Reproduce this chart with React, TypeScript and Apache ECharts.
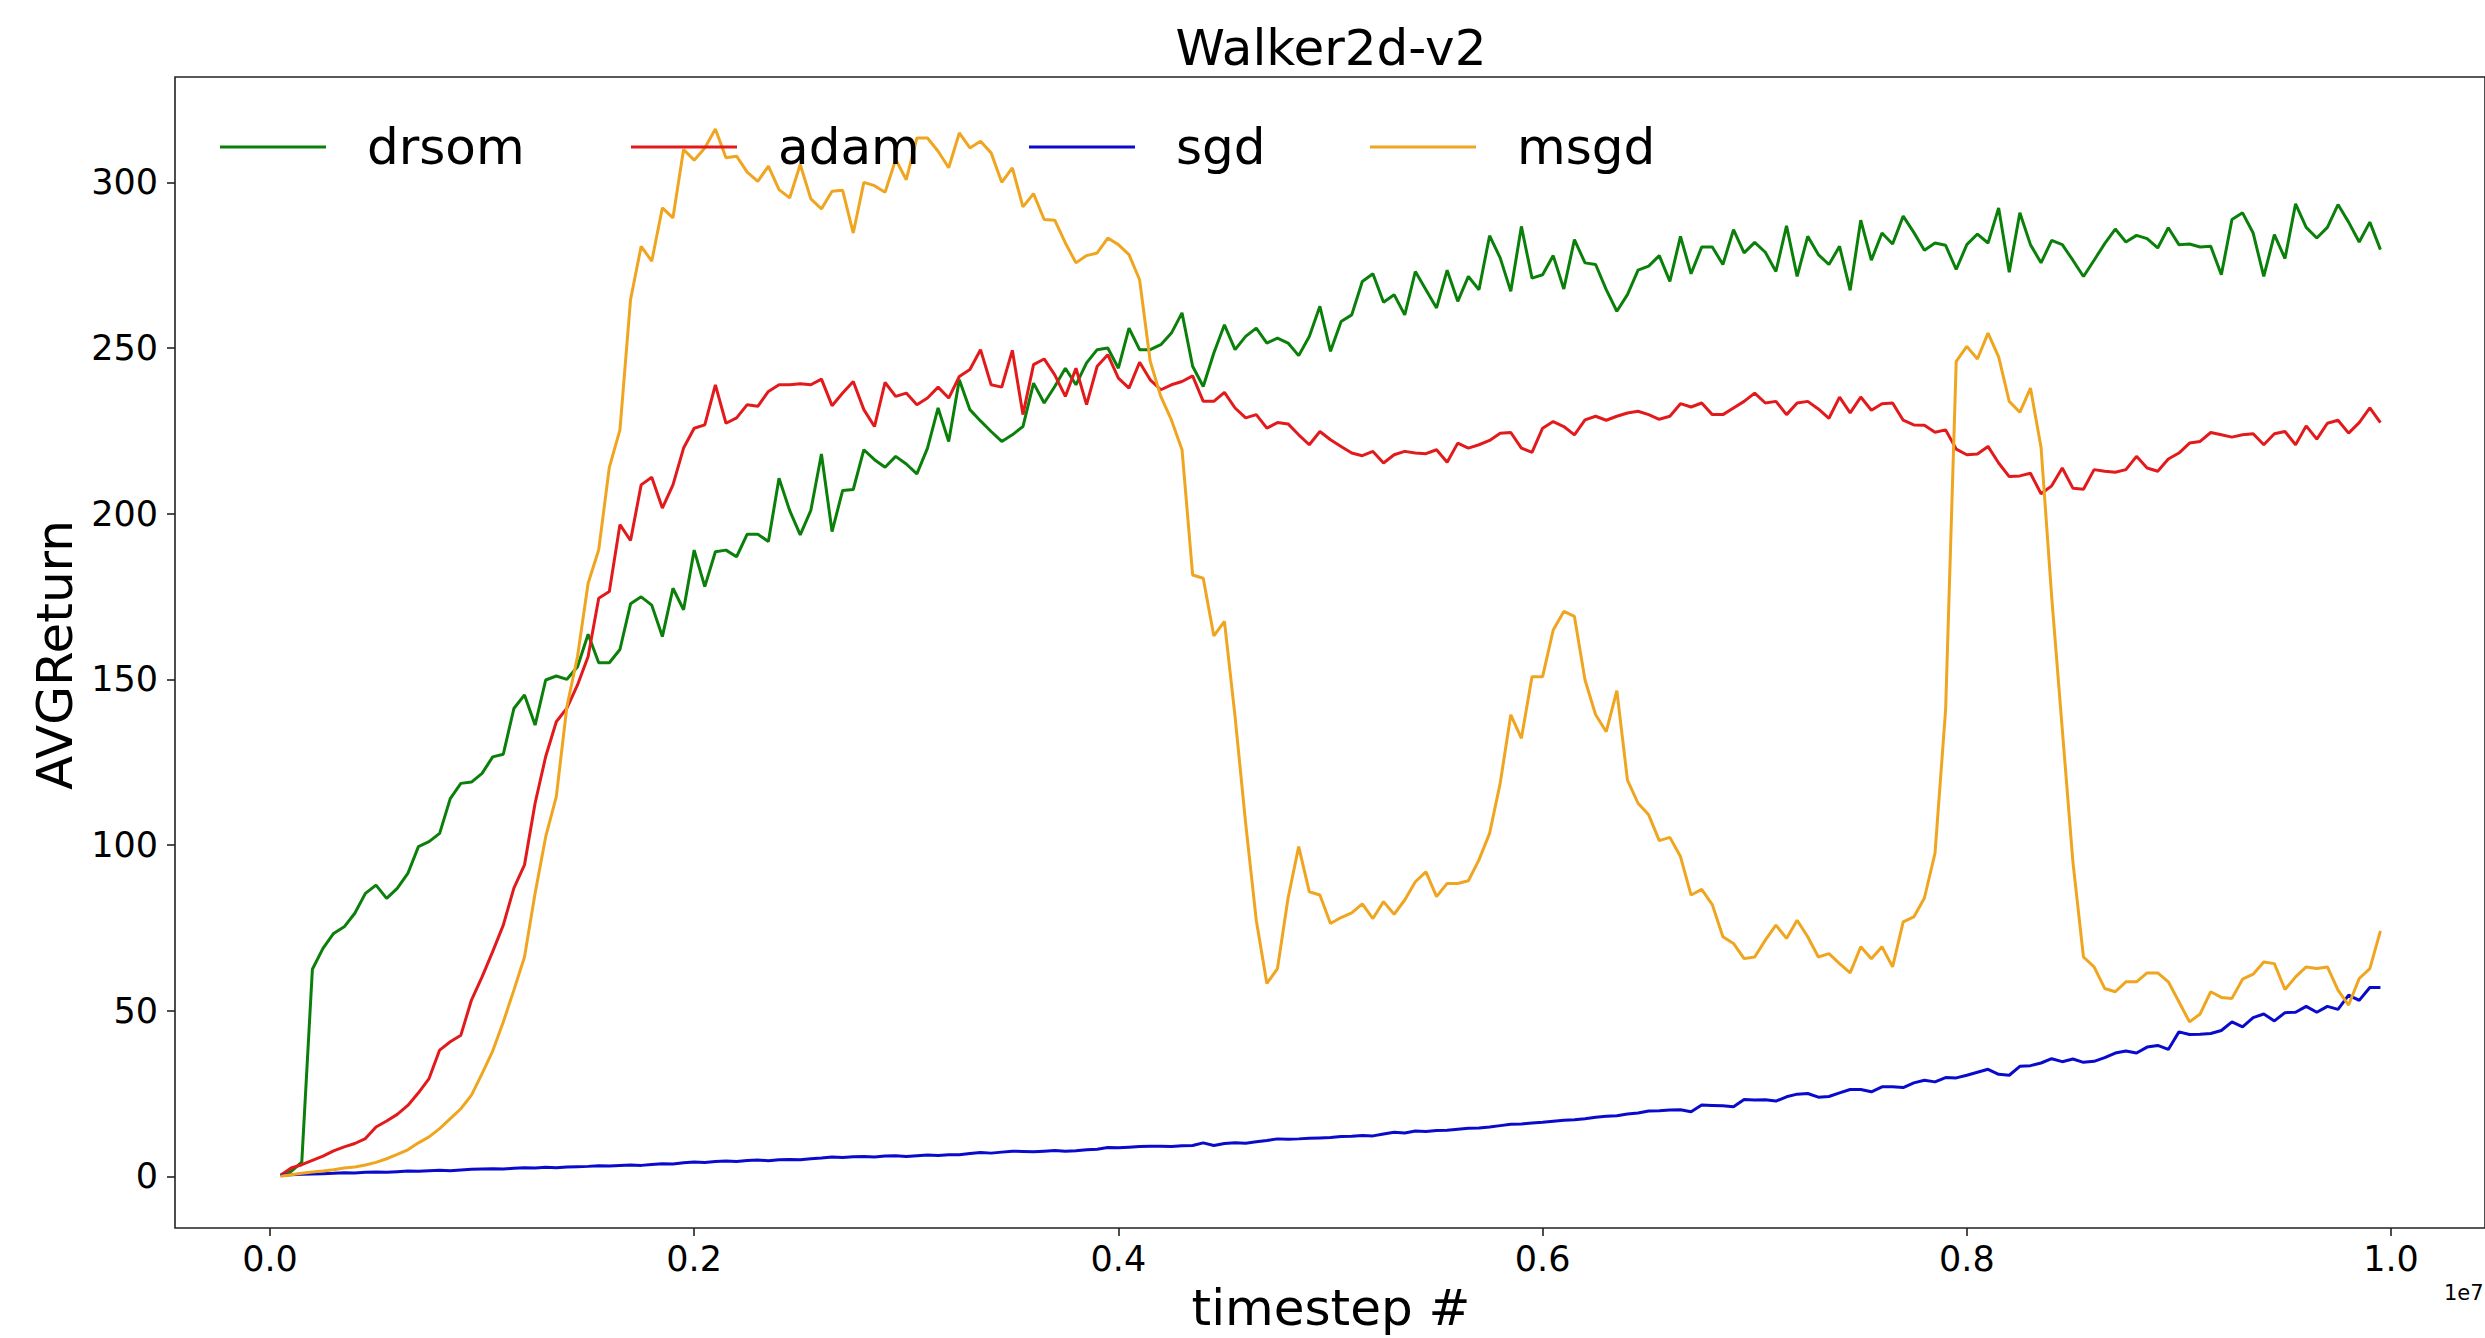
import React, { useEffect, useRef } from "react";
import * as echarts from "echarts";

// Average return per method, one value every 50,000 timesteps (0.005e7 .. 0.995e7)
const drsom = [
  0.2, 1.5, 4.3, 62.5, 68.8, 73.3, 75.3, 79.4, 85.4, 87.9,
  83.9, 86.9, 91.4, 99.5, 101.0, 103.5, 114.0, 118.6, 119.0, 121.6,
  126.6, 127.4, 141.2, 145.3, 136.2, 149.8, 151.0, 150.0, 153.8, 163.6,
  155.0, 155.0, 159.0, 172.8, 174.9, 172.4, 162.9, 177.5, 171.0, 189.0,
  178.0, 188.5, 189.0, 187.0, 193.8, 193.8, 191.6, 210.7, 201.0, 193.6,
  201.0, 218.0, 194.6, 207.0, 207.3, 219.3, 216.3, 214.0, 217.3, 215.0,
  212.0, 219.8, 231.9, 221.8, 240.4, 231.4, 228.0, 224.8, 221.8, 223.8,
  226.3, 239.4, 233.4, 238.4, 243.9, 238.9, 245.5, 249.5, 250.0, 243.9,
  256.0, 249.5, 249.5, 251.0, 254.5, 260.6, 244.5, 238.4, 248.5, 257.0,
  249.5, 253.5, 256.0, 251.5, 253.0, 251.5, 247.7, 253.5, 262.6, 249.0,
  258.0, 260.0, 270.1, 272.4, 263.8, 266.1, 260.0, 273.1, 267.6, 262.1,
  273.5, 264.1, 271.6, 267.6, 283.9, 277.2, 267.1, 286.7, 271.1, 272.1,
  277.9, 267.8, 282.7, 275.7, 275.2, 267.6, 261.1, 266.1, 273.5, 274.7,
  277.9, 270.1, 283.7, 272.4, 280.5, 280.5, 275.2, 285.7, 278.7, 281.9,
  278.9, 273.1, 286.9, 271.6, 283.7, 278.2, 275.2, 280.7, 267.4, 288.6,
  276.5, 284.7, 281.4, 289.8, 284.9, 279.5, 281.7, 281.0, 273.7, 281.2,
  284.4, 281.7, 292.3, 272.9, 290.8, 281.2, 275.7, 282.5, 281.2, 276.5,
  271.6, 276.5, 281.5, 285.9, 282.0, 284.0, 283.0, 280.2, 286.3, 281.2,
  281.4, 280.5, 280.7, 272.1, 288.8, 290.8, 284.7, 271.6, 284.2, 277.0,
  293.5, 286.4, 283.2, 286.4, 293.3, 288.0, 282.0, 288.0, 279.7,
];

const adam = [
  0.3, 2.5, 3.5, 4.8, 6.1, 7.7, 8.9, 9.9, 11.4, 14.9,
  16.7, 18.7, 21.4, 25.2, 29.5, 38.1, 40.6, 42.6, 53.2, 60.2,
  67.8, 75.8, 87.0, 94.0, 112.6, 126.7, 137.2, 141.3, 148.3, 156.9,
  174.5, 176.5, 196.7, 191.9, 208.7, 211.0, 201.7, 208.7, 219.8, 225.8,
  226.8, 238.9, 227.3, 228.9, 232.9, 232.4, 236.9, 238.9, 238.9, 239.2,
  238.9, 240.6, 232.6, 236.4, 239.9, 231.4, 226.3, 239.6, 235.4, 236.4,
  232.9, 234.9, 238.2, 234.9, 241.4, 243.5, 249.5, 238.9, 238.2, 249.3,
  229.9, 245.0, 246.7, 241.9, 235.4, 243.9, 232.9, 244.5, 248.0, 240.9,
  237.9, 245.7, 240.4, 237.4, 238.9, 239.9, 241.6, 233.9, 233.9, 236.6,
  231.9, 228.9, 229.9, 225.8, 227.5, 227.1, 223.8, 220.8, 224.8, 222.3,
  220.3, 218.3, 217.5, 218.8, 215.3, 217.8, 218.8, 218.3, 218.1, 219.3,
  215.5, 221.3, 219.8, 220.8, 222.1, 224.3, 224.5, 219.8, 218.5, 225.8,
  227.8, 226.3, 223.8, 228.3, 229.4, 228.2, 229.4, 230.4, 230.9, 229.9,
  228.5, 229.4, 233.2, 232.2, 233.4, 229.9, 229.9, 231.9, 233.9, 236.4,
  233.4, 233.9, 229.9, 233.4, 233.9, 231.6, 228.8, 235.2, 230.4, 235.2,
  231.2, 233.2, 233.4, 228.2, 226.8, 226.7, 224.6, 225.3, 219.5, 217.8,
  218.0, 220.3, 215.3, 211.2, 211.4, 212.2, 206.0, 208.4, 213.8, 207.7,
  207.4, 213.3, 212.8, 212.5, 213.3, 217.3, 213.8, 212.8, 216.5, 218.3,
  221.3, 221.8, 224.5, 223.8, 223.1, 223.8, 224.1, 220.8, 224.1, 224.8,
  220.8, 226.5, 222.5, 227.3, 228.2, 224.3, 227.5, 231.9, 227.5,
];

const sgd = [
  0.3, 0.5, 0.6, 0.7, 0.8, 0.9, 1.1, 1.0, 1.2, 1.3,
  1.2, 1.4, 1.6, 1.5, 1.7, 1.8, 1.7, 1.9, 2.1, 2.2,
  2.3, 2.2, 2.4, 2.6, 2.5, 2.7, 2.6, 2.8, 2.9, 3.0,
  3.2, 3.1, 3.3, 3.4, 3.3, 3.6, 3.8, 3.7, 4.1, 4.3,
  4.2, 4.5, 4.6, 4.5, 4.8, 4.9, 4.7, 5.0, 5.1, 5.0,
  5.3, 5.5, 5.8, 5.7, 5.9, 6.0, 5.8, 6.1, 6.2, 6.0,
  6.2, 6.4, 6.3, 6.5, 6.5, 6.9, 7.2, 7.0, 7.3, 7.6,
  7.5, 7.4, 7.6, 7.8, 7.6, 7.7, 8.0, 8.2, 8.7, 8.6,
  8.8, 9.0, 9.1, 9.1, 9.0, 9.2, 9.3, 10.1, 9.3, 9.9,
  10.1, 10.0, 10.4, 10.8, 11.3, 11.2, 11.3, 11.5, 11.6, 11.7,
  12.0, 12.1, 12.3, 12.2, 12.8, 13.3, 13.1, 13.7, 13.5, 13.8,
  13.9, 14.2, 14.5, 14.6, 14.9, 15.3, 15.7, 15.8, 16.1, 16.3,
  16.6, 16.9, 17.1, 17.4, 17.8, 18.1, 18.3, 18.8, 19.1, 19.7,
  19.8, 20.0, 20.1, 19.5, 21.5, 21.4, 21.3, 21.0, 23.2, 23.0,
  23.1, 22.7, 24.0, 24.8, 25.0, 23.9, 24.1, 25.2, 26.2, 26.2,
  25.5, 27.0, 27.0, 26.8, 28.2, 29.0, 28.5, 29.8, 29.7, 30.5,
  31.4, 32.3, 30.8, 30.5, 33.2, 33.4, 34.2, 35.5, 34.6, 35.4,
  34.4, 34.7, 35.8, 37.2, 37.8, 37.2, 39.0, 39.5, 38.3, 43.6,
  42.8, 42.9, 43.1, 44.0, 46.6, 45.1, 47.9, 49.0, 46.9, 49.4,
  49.5, 51.3, 49.5, 51.3, 50.4, 54.7, 53.1, 57.0, 57.0,
];

const msgd = [
  0.0, 0.5, 0.9, 1.3, 1.6, 2.0, 2.5, 2.8, 3.4, 4.2,
  5.3, 6.6, 8.0, 10.1, 11.9, 14.4, 17.4, 20.4, 24.5, 31.0,
  37.8, 46.6, 56.2, 66.2, 85.4, 102.5, 114.6, 141.8, 156.9, 179.0,
  189.1, 214.0, 225.3, 264.6, 280.7, 276.2, 292.3, 289.3, 309.9, 306.7,
  310.4, 316.1, 307.4, 307.9, 303.1, 300.3, 304.9, 297.8, 295.3, 305.4,
  295.0, 292.0, 297.3, 297.6, 284.7, 300.0, 299.0, 297.0, 306.9, 300.8,
  313.4, 313.4, 309.4, 304.4, 314.9, 310.4, 312.4, 308.9, 300.0, 304.4,
  292.6, 296.6, 288.8, 288.6, 281.7, 275.7, 277.9, 278.7, 283.2, 281.2,
  278.2, 270.6, 246.0, 235.4, 228.3, 219.3, 181.5, 180.5, 163.1, 167.5,
  138.8, 106.5, 77.3, 58.2, 62.7, 84.0, 99.5, 85.9, 84.9, 76.3,
  78.1, 79.5, 82.2, 77.8, 82.9, 79.1, 83.4, 88.9, 91.9, 84.4,
  88.4, 88.4, 89.2, 95.5, 103.5, 118.6, 139.3, 132.2, 150.8, 150.8,
  164.9, 170.5, 169.0, 149.8, 139.3, 134.2, 146.6, 119.6, 112.6, 109.1,
  101.3, 102.3, 96.5, 84.9, 86.6, 82.0, 72.3, 70.3, 65.7, 66.2,
  71.3, 75.8, 71.8, 77.3, 72.3, 66.2, 67.2, 64.2, 61.4, 69.3,
  65.7, 69.3, 63.2, 76.8, 78.3, 84.0, 97.5, 140.8, 246.0, 250.5,
  246.7, 254.5, 247.3, 233.9, 230.6, 237.9, 220.0, 175.0, 135.0, 95.0,
  66.2, 63.2, 56.7, 55.7, 58.7, 58.7, 61.4, 61.4, 58.7, 52.7,
  46.6, 49.0, 55.7, 54.0, 53.7, 59.5, 61.0, 64.7, 64.2, 56.4,
  60.2, 63.2, 62.7, 63.2, 56.2, 51.7, 59.7, 62.7, 74.1,
];

const STEP = 50000;
const timesteps = drsom.map((_, k) => (k + 1) * STEP);
const xTicks = [0, 2e6, 4e6, 6e6, 8e6, 1e7];
const yTicks = [0, 50, 100, 150, 200, 250, 300];
const seriesNames = ["drsom", "adam", "sgd", "msgd"];
const seriesColors = ["#0a800a", "#e31a1c", "#0a0acd", "#f0a520"];
const titleText = "Walker2d-v2";
const xName = "timestep #";
const yName = "AVGReturn";
const offsetText = "1e7";

export default function App() {
  const ref = useRef<HTMLDivElement>(null);
  useEffect(() => {
    const chart = echarts.init(ref.current as HTMLDivElement, null, { renderer: "svg" });
    const FONT = "DejaVu Sans";
    const dataSets = [drsom, adam, sgd, msgd];
    const legendLefts = [220, 631, 1029, 1370];
    chart.setOption({
      animation: false,
      backgroundColor: "#ffffff",
      textStyle: { fontFamily: FONT },
      grid: {
        left: 175,
        top: 77,
        right: -1,
        bottom: 110,
        show: true,
        borderColor: "#222222",
        borderWidth: 1.6,
        backgroundColor: "transparent",
      },
      xAxis: {
        type: "value",
        min: -447700,
        max: 10443000,
        position: "bottom",
        axisLine: { show: false, onZero: false },
        axisTick: {
          show: true,
          length: 8,
          customValues: xTicks,
          lineStyle: { color: "#222222", width: 1.6 },
        },
        axisLabel: {
          customValues: xTicks,
          formatter: (v: number) => (v / 1e7).toFixed(1),
          fontSize: 35,
          fontFamily: FONT,
          color: "#000000",
          margin: 13,
        },
        splitLine: { show: false },
      },
      yAxis: {
        type: "value",
        min: -15.6,
        max: 331.8,
        position: "left",
        axisLine: { show: false, onZero: false },
        axisTick: {
          show: true,
          length: 8,
          customValues: yTicks,
          lineStyle: { color: "#222222", width: 1.6 },
        },
        axisLabel: {
          customValues: yTicks,
          formatter: (v: number) => String(Math.round(v)),
          fontSize: 35,
          fontFamily: FONT,
          color: "#000000",
          margin: 17,
        },
        splitLine: { show: false },
      },
      legend: legendLefts.map((left, k) => ({
        data: [seriesNames[k]],
        left,
        top: 122,
        padding: 0,
        itemWidth: 106,
        itemHeight: 3,
        icon: "rect",
        selectedMode: false,
        textStyle: {
          fontSize: 50,
          fontFamily: FONT,
          color: "#000000",
          padding: [0, 0, 0, 36],
        },
      })),
      series: dataSets.map((d, k) => ({
        name: seriesNames[k],
        type: "line",
        data: d.map((v, j) => [timesteps[j], v]),
        showSymbol: false,
        symbol: "none",
        lineStyle: { width: 3, color: seriesColors[k] },
        itemStyle: { color: seriesColors[k] },
        emphasis: { disabled: true },
      })),
      graphic: [
        {
          type: "text",
          x: 1331,
          y: 48,
          style: {
            text: titleText,
            fontSize: 50,
            fontFamily: FONT,
            fill: "#000000",
            align: "center",
            verticalAlign: "middle",
          },
        },
        {
          type: "text",
          x: 1331,
          y: 1308,
          style: {
            text: xName,
            fontSize: 50,
            fontFamily: FONT,
            fill: "#000000",
            align: "center",
            verticalAlign: "middle",
          },
        },
        {
          type: "text",
          x: 55,
          y: 655,
          rotation: Math.PI / 2,
          style: {
            text: yName,
            fontSize: 50,
            fontFamily: FONT,
            fill: "#000000",
            align: "center",
            verticalAlign: "middle",
          },
        },
        {
          type: "text",
          x: 2444,
          y: 1293,
          style: {
            text: offsetText,
            fontSize: 21,
            fontFamily: FONT,
            fill: "#000000",
            align: "left",
            verticalAlign: "middle",
          },
        },
      ],
    });
    return () => chart.dispose();
  }, []);
  return (
    <div
      ref={ref}
      style={{ position: "absolute", left: 0, top: 0, width: 2485, height: 1338 }}
    />
  );
}
